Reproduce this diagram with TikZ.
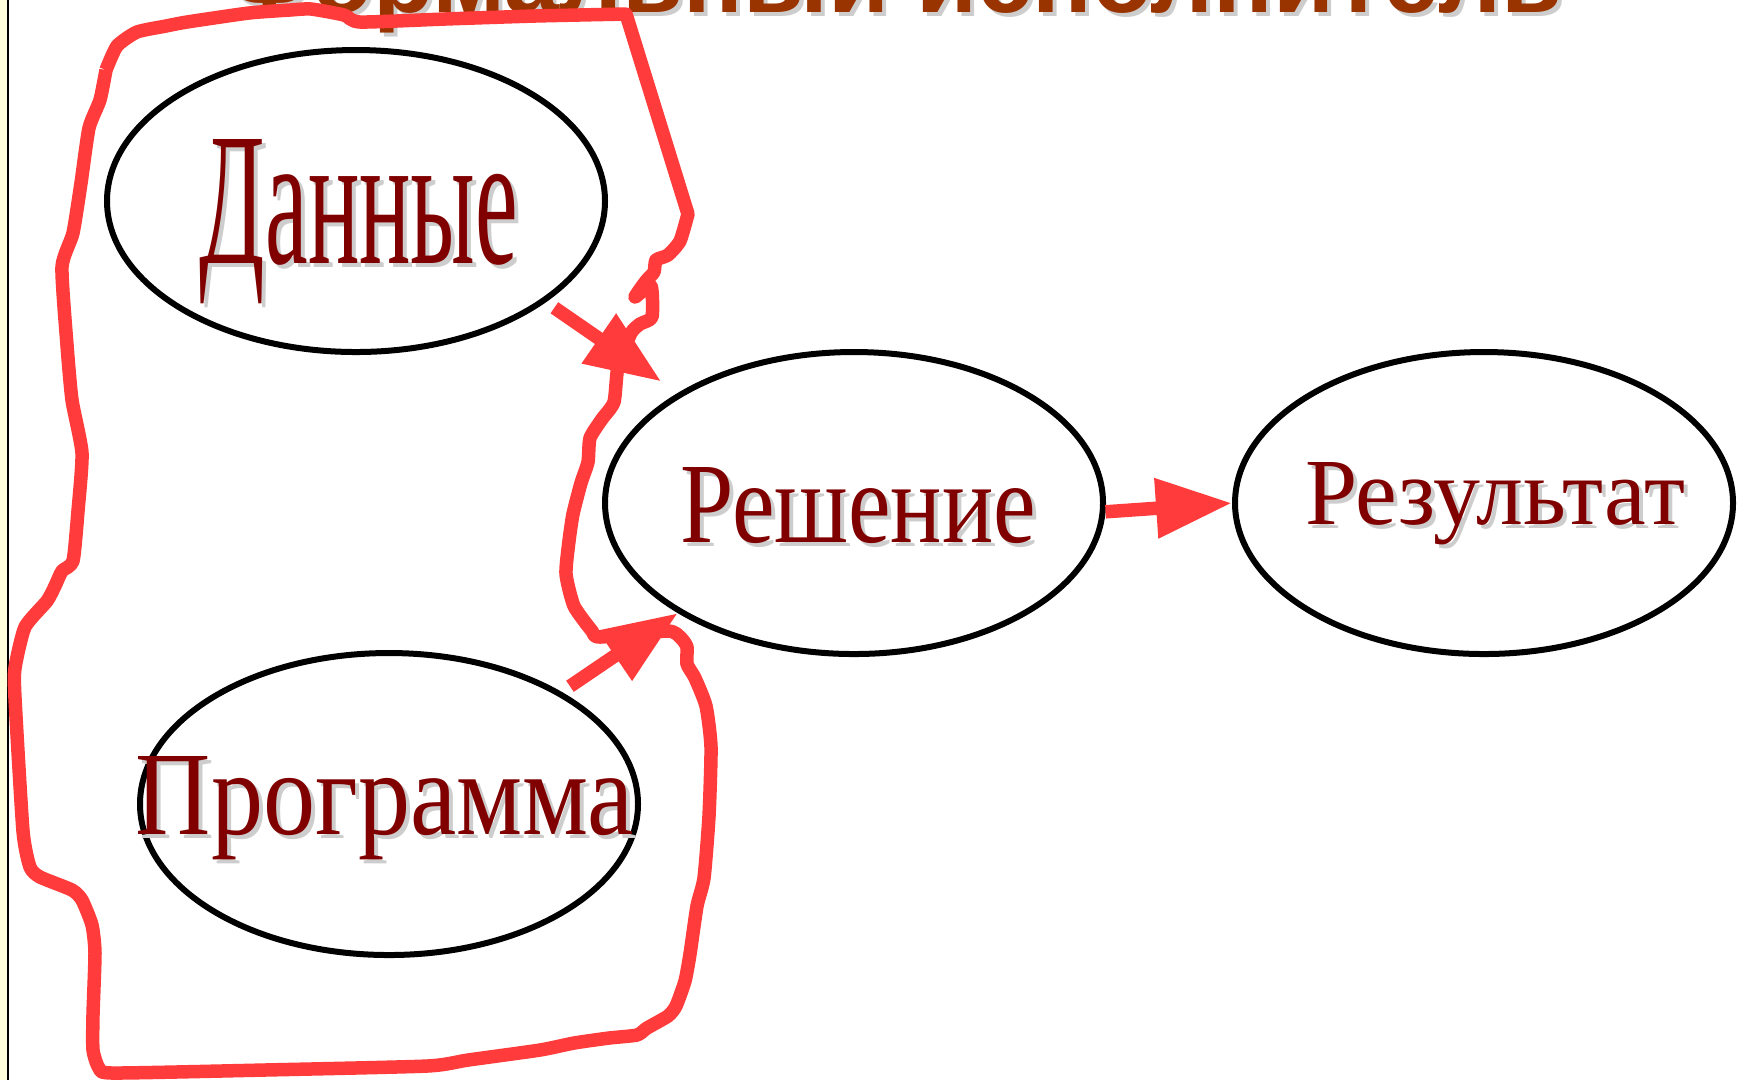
\documentclass[tikz,border=0pt]{standalone}
\usepackage{fontspec}
\setmainfont{Liberation Serif}
\newfontfamily\headfont{Liberation Sans}
\usetikzlibrary{arrows.meta,shapes.geometric}
\definecolor{penred}{RGB}{255,59,59}
\definecolor{worddark}{RGB}{128,0,0}
\definecolor{headbrown}{RGB}{153,51,0}
\definecolor{wordshade}{RGB}{205,205,205}
\definecolor{stripyellow}{RGB}{255,255,221}
\newcommand\slideword[3]{\makebox[0pt][l]{\hspace{0.4mm}\raisebox{-0.4mm}{\textcolor{wordshade}{\resizebox{#1}{#2}{#3}}}}\resizebox{#1}{#2}{#3}}

\begin{document}
\begin{tikzpicture}[x=0.1mm,y=-0.1mm,
  blob/.style={ellipse,draw=black,line width=0.6mm,minimum width=49.8mm,minimum height=30.2mm,inner sep=0pt},
  word/.style={anchor=base,inner sep=0pt,text=worddark},
  feed/.style={draw=penred,line width=1.35mm,-{Triangle[length=7.6mm,width=5.7mm]}},
  lasso/.style={draw=penred,line width=1.35mm,line join=round}]
\useasboundingbox (0,0) rectangle (1743,1080);
\clip (0,0) rectangle (1743,1080);
\fill[stripyellow] (0,0) rectangle (7,1080);
\draw[line width=0.2mm] (7.5,0) -- (7.5,1080);

\node[anchor=base,inner sep=0pt,text=headbrown] (head) at (895,12) {\slideword{133.4mm}{!}{\headfont\bfseries\fontsize{26}{28}\selectfont Формальный исполнитель}};

\node[blob] (dan) at (356,201) {};
\node[blob] (prog) at (389,804) {};
\node[blob] (resh) at (854,503) {};
\node[blob] (res) at (1484,503) {};

\node[word] (danw) at (359,263) {\slideword{31.8mm}{12.4mm}{Данные}};
\node[word] (reshw) at (858,542) {\slideword{35.6mm}{7.5mm}{Решение}};
\node[word] (resw) at (1495,524) {\slideword{38mm}{6.2mm}{Результат}};
\node[word] (progw) at (385,834) {\slideword{49.8mm}{7.8mm}{Программа}};

\draw[lasso] plot[smooth,tension=0.35] coordinates {
  (106,70) (117,46) (137,32) (166,26) (187,22) (249,13) (290,10) (311,9) (344,15) (360,22) (445,19) (535,16) (626,14)}
  -- plot[smooth,tension=0.35] coordinates {
  (688,214) (680,241) (668,255) (656,260) (654,272) (646,281) (635,297) (651,286) (652,317)
  (640,324) (631,333) (618,366) (614,402) (602,419) (590,438) (588,462) (581,483) (573,514)
  (569,541) (566,574) (574,606) (592,631) (600,637) (668,631) (681,638) (687,647) (687,664)
  (695,678) (706,706) (711,747) (709,816) (704,878) (697,906) (690,954) (685,981) (676,1006)
  (668,1016) (647,1028) (637,1035) (609,1038) (574,1043) (540,1050) (468,1060) (427,1066)
  (264,1070) (113,1073) (99,1068) (93,1050) (93,1015) (95,953) (92,925) (82,900) (72,890)
  (40,877) (30,867) (23,831) (15,698) (15,668) (25,627) (47,601) (55,586) (62,571) (73,561)
  (78,511) (82,453) (72,400) (67,345) (62,267) (73,233) (81,183) (89,128) (100,100) (106,70)};

\draw[feed,shorten <=1mm,shorten >=2mm] (dan.-28) -- (resh.148);
\draw[feed,shorten <=1mm] (prog.33) -- (resh.212);
\draw[feed] (resh.-2) -- (res.west);
\end{tikzpicture}
\end{document}
